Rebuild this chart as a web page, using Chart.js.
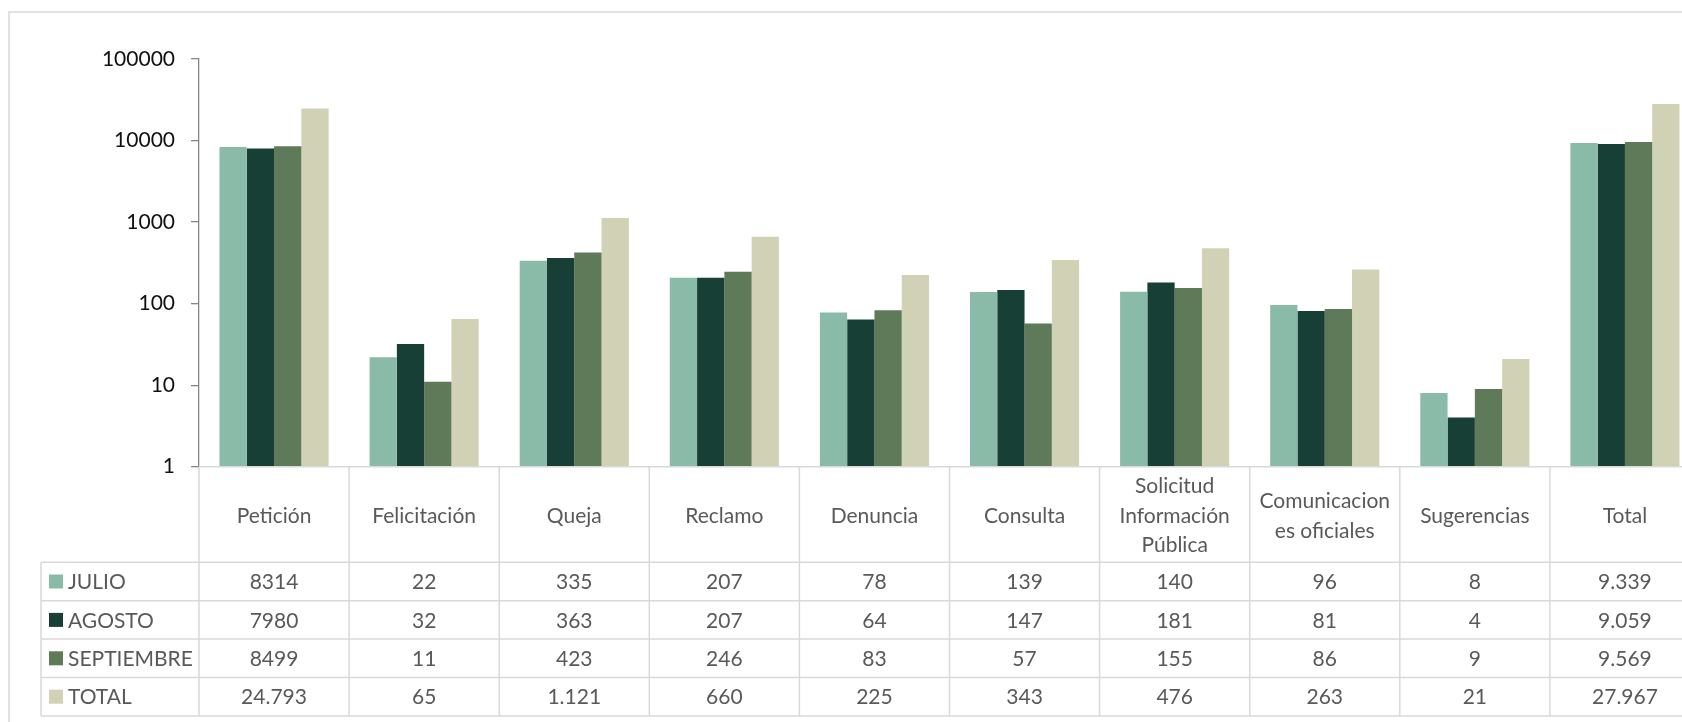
<!DOCTYPE html>
<html>
<head>
<meta charset="utf-8">
<script src="https://cdn.jsdelivr.net/npm/chart.js@4.4.0/dist/chart.umd.min.js"></script>
<style>
  html, body { margin: 0; padding: 0; background: #fff; overflow: hidden; }
  canvas { display: block; }
</style>
</head>
<body>
<canvas id="chart" width="1720" height="722"></canvas>
<script>
// Datos - categorias y series
const categories = ['Petición', 'Felicitación', 'Queja', 'Reclamo', 'Denuncia', 'Consulta',
  ['Solicitud', 'Información', 'Pública'], ['Comunicacion', 'es oficiales'], 'Sugerencias', 'Total'];
const seriesNames = ['JULIO', 'AGOSTO', 'SEPTIEMBRE', 'TOTAL'];
const julio = [8314, 22, 335, 207, 78, 139, 140, 96, 8, 9339];
const agosto = [7980, 32, 363, 207, 64, 147, 181, 81, 4, 9059];
const septiembre = [8499, 11, 423, 246, 83, 57, 155, 86, 9, 9569];
const total = [24793, 65, 1121, 660, 225, 343, 476, 263, 21, 27967];
const yTicks = [1, 10, 100, 1000, 10000, 100000];

const colors = ['#8abba8', '#173f36', '#5e7a59', '#d1d1b6'];
const seriesData = [julio, agosto, septiembre, total];
const FONT = 'Lato';

function fmt(v, grouped) {
  return grouped ? String(v).replace(/\B(?=(\d{3})+(?!\d))/g, '.') : String(v);
}

// marco del grafico
const framePlugin = {
  id: 'frame',
  beforeDraw(chart) {
    const ctx = chart.ctx;
    ctx.save();
    ctx.strokeStyle = '#d9d9d9';
    ctx.lineWidth = 1.5;
    ctx.strokeRect(9, 12, 3000, 3000);
    ctx.restore();
  }
};

// tabla de datos bajo el grafico
const tablePlugin = {
  id: 'dataTable',
  afterDraw(chart) {
    const ctx = chart.ctx;
    const area = chart.chartArea;
    const xs = chart.scales.x;
    const n = categories.length;
    const colW = (area.right - area.left) / n;
    const top = area.bottom;
    const headerH = 95.6, rowH = 38.4;
    const legendLeft = 41;
    const bottom = top + headerH + seriesNames.length * rowH;

    ctx.save();
    ctx.strokeStyle = '#d9d9d9';
    ctx.lineWidth = 1.5;
    ctx.beginPath();
    ctx.moveTo(area.left, top); ctx.lineTo(area.right, top);
    for (let r = 0; r <= seriesNames.length; r++) {
      const y = top + headerH + r * rowH;
      ctx.moveTo(legendLeft, y); ctx.lineTo(area.right, y);
    }
    for (let c = 0; c <= n; c++) {
      const x = area.left + c * colW;
      ctx.moveTo(x, top); ctx.lineTo(x, bottom);
    }
    ctx.moveTo(legendLeft, top + headerH); ctx.lineTo(legendLeft, bottom);
    ctx.stroke();

    ctx.font = '21px ' + FONT;
    ctx.fillStyle = '#595959';
    ctx.textBaseline = 'middle';
    seriesNames.forEach((name, r) => {
      const yc = top + headerH + r * rowH + rowH / 2;
      ctx.fillStyle = colors[r];
      ctx.fillRect(49, yc - 7, 14, 14);
      ctx.fillStyle = '#595959';
      ctx.textAlign = 'left';
      ctx.fillText(name, 68, yc + 1);
      ctx.textAlign = 'center';
      seriesData[r].forEach((v, c) => {
        const grouped = r === seriesNames.length - 1 || c === n - 1;
        ctx.fillText(fmt(v, grouped), xs.getPixelForValue(c), yc + 1);
      });
    });
    ctx.restore();
  }
};

new Chart(document.getElementById('chart'), {
  type: 'bar',
  data: {
    labels: categories,
    datasets: seriesNames.map((name, i) => ({
      label: name,
      data: seriesData[i],
      backgroundColor: colors[i],
      borderWidth: 0,
      categoryPercentage: 0.727,
      barPercentage: 1.0
    }))
  },
  options: {
    responsive: false,
    animation: false,
    layout: { padding: { top: 59, left: 0, right: 20, bottom: 0 } },
    plugins: { legend: { display: false }, tooltip: { enabled: false } },
    scales: {
      x: {
        grid: { display: false, drawTicks: false },
        border: { display: false },
        ticks: {
          font: { family: FONT, size: 21, lineHeight: 1.4 },
          color: '#595959',
          crossAlign: 'center',
          padding: 20,
          maxRotation: 0,
          autoSkip: false
        },
        afterFit(s) {
          s.height = 722 - 466.7;
          s.paddingLeft = 0; s.paddingRight = 0;
        }
      },
      y: {
        type: 'logarithmic',
        min: 1,
        max: 100000,
        grid: { drawOnChartArea: false, drawTicks: true, tickLength: 8, color: '#868686', lineWidth: 1.3 },
        border: { display: true, color: '#868686', width: 1.3 },
        ticks: {
          font: { family: FONT, size: 21 },
          color: '#111111',
          padding: 16,
          callback: v => String(v)
        },
        afterBuildTicks(s) {
          s.ticks = yTicks.map(v => ({ value: v }));
        },
        afterFit(s) {
          s.width = 199;
          s.paddingTop = 0; s.paddingBottom = 0;
        }
      }
    }
  },
  plugins: [framePlugin, tablePlugin]
});
</script>
</body>
</html>
